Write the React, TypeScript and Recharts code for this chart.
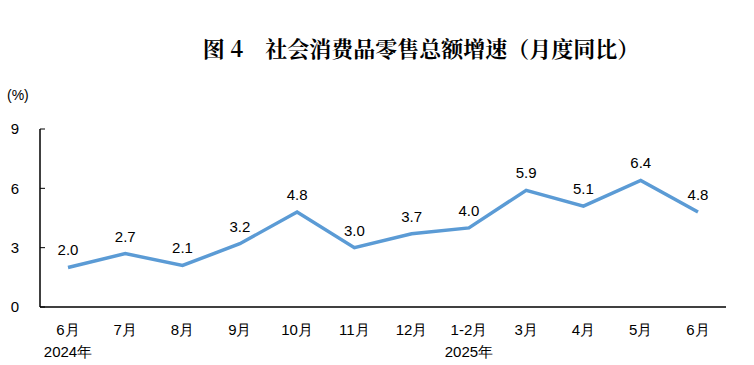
import React from "react";
import { LineChart, Line, XAxis, YAxis, LabelList } from "recharts";

const months = ["6月", "7月", "8月", "9月", "10月", "11月", "12月", "1-2月", "3月", "4月", "5月", "6月"];
const years = ["2024年", "", "", "", "", "", "", "2025年", "", "", "", ""];
const growth = [2.0, 2.7, 2.1, 3.2, 4.8, 3.0, 3.7, 4.0, 5.9, 5.1, 6.4, 4.8];
const yTicks = [0, 3, 6, 9];

const data = months.map((m, i) => ({ key: i, month: m, year: years[i], value: growth[i] }));

const labelFont = "'Liberation Sans', Arial, sans-serif";

const XTick = (props: any) => {
  const { x, y, payload } = props;
  const d = data[payload.value];
  return (
    <g>
      <text x={x} y={y + 20} textAnchor="middle" fontSize={15} fill="#000" fontFamily={labelFont}>
        {d.month}
      </text>
      {d.year ? (
        <text x={x} y={y + 42} textAnchor="middle" fontSize={15} fill="#000" fontFamily={labelFont}>
          {d.year}
        </text>
      ) : null}
    </g>
  );
};

export default function App() {
  return (
    <div style={{ position: "absolute", left: 0, top: 0, width: 754, height: 365, background: "#fff" }}>
      <div
        style={{
          position: "absolute",
          left: 0,
          width: 842,
          top: 33,
          textAlign: "center",
          fontFamily: "'Noto Serif CJK SC', 'Noto Sans CJK SC', serif",
          fontWeight: 700,
          fontSize: 22,
          lineHeight: "30px",
          color: "#000",
          whiteSpace: "pre",
        }}
      >
        {"图 4　社会消费品零售总额增速（月度同比）"}
      </div>
      <div
        style={{
          position: "absolute",
          left: 7,
          top: 87,
          fontFamily: labelFont,
          fontSize: 14,
          color: "#000",
        }}
      >
        (%)
      </div>
      <LineChart width={754} height={365} data={data} margin={{ top: 129, right: 28, bottom: 0, left: 0 }}>
        <XAxis
          dataKey="key"
          type="category"
          height={58}
          padding={{ left: 28, right: 28 }}
          axisLine={{ stroke: "#000", strokeWidth: 1.5 }}
          tickLine={false}
          tick={<XTick />}
          interval={0}
        />
        <YAxis
          domain={[0, 9]}
          ticks={yTicks}
          width={40}
          axisLine={{ stroke: "#000", strokeWidth: 1.5 }}
          tickLine={{ stroke: "#000", strokeWidth: 1 }}
          tickSize={-5}
          tickMargin={26}
          tick={{ fontSize: 15, fill: "#000", fontFamily: labelFont }}
        />
        <Line
          type="linear"
          dataKey="value"
          stroke="#5B9BD5"
          strokeWidth={3.5}
          dot={false}
          isAnimationActive={false}
        >
          <LabelList
            dataKey="value"
            position="top"
            offset={12}
            formatter={(v: any) => Number(v).toFixed(1)}
            style={{ fontSize: 15, fill: "#000", fontFamily: labelFont }}
          />
        </Line>
      </LineChart>
    </div>
  );
}
